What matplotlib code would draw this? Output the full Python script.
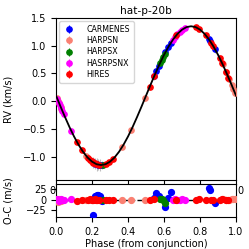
import numpy as np
import matplotlib
matplotlib.use("Agg")
import matplotlib.pyplot as plt

# -----------------------------
# Modelo (curva)
# -----------------------------
fase_modelo = [0.000, 0.025, 0.050, 0.075, 0.100, 0.125, 0.150, 0.175, 0.200, 0.225,
               0.250, 0.275, 0.300, 0.325, 0.350, 0.375, 0.400, 0.425, 0.450, 0.475,
               0.500, 0.525, 0.550, 0.575, 0.600, 0.625, 0.650, 0.675, 0.700, 0.725,
               0.750, 0.775, 0.800, 0.825, 0.850, 0.875, 0.900, 0.925, 0.950, 0.975, 1.000]
rv_modelo = [0.100, -0.096, -0.286, -0.468, -0.635, -0.784, -0.911, -1.014, -1.089, -1.135,
             -1.150, -1.135, -1.089, -1.014, -0.911, -0.784, -0.635, -0.468, -0.286, -0.096,
             0.100, 0.296, 0.486, 0.668, 0.835, 0.984, 1.111, 1.214, 1.289, 1.335,
             1.350, 1.335, 1.289, 1.214, 1.111, 0.984, 0.835, 0.668, 0.486, 0.296, 0.100]

# -----------------------------
# Datos por instrumento
# -----------------------------
instrumentos = ["CARMENES", "HARPSN", "HARPSX", "HASRPSNX", "HIRES"]
colores = ["blue", "salmon", "green", "magenta", "red"]

fase_carm = [0.204, 0.217, 0.226, 0.235, 0.244, 0.255, 0.546, 0.558, 0.570, 0.607,
             0.624, 0.638, 0.848, 0.856, 0.882]
rv_carm = [-1.098, -1.123, -1.136, -1.145, -1.149, -1.149, 0.457, 0.546, 0.632, 0.878,
           0.978, 1.053, 1.120, 1.083, 0.945]
res_carm = [-35, 8, 12, 11, 10, -3, 5, 15, 8, -18, 5, 18, 28, 24, -8]
err_carm = [0.10, 0.10, 0.12, 0.10, 0.10, 0.08, 0.08, 0.08, 0.08, 0.08,
            0.08, 0.08, 0.08, 0.10, 0.08]

fase_hn = [0.005, 0.012, 0.018, 0.025, 0.030, 0.167, 0.200, 0.368, 0.417, 0.494,
           0.925, 0.945, 0.962, 0.975, 0.985, 0.993]
rv_hn = [0.061, 0.006, -0.041, -0.096, -0.134, -0.984, -1.089, -0.822, -0.523, 0.053,
         0.668, 0.523, 0.396, 0.296, 0.218, 0.155]
res_hn = [3, -4, 2, -2, 0, 0, 0, 0, 0, 0, 1, 0, -1, 2, 3, 1]

fase_hx = [0.262, 0.578, 0.586, 0.594, 0.603]
rv_hx = [-1.146, 0.689, 0.744, 0.795, 0.854]
res_hx = [0, 2, 3, 0, -7]

fase_hnx = [0.008, 0.016, 0.022, 0.028, 0.035, 0.042, 0.085, 0.648, 0.660, 0.672,
            0.686, 0.700, 0.716]
rv_hnx = [0.037, -0.025, -0.072, -0.119, -0.173, -0.226, -0.536, 1.102, 1.155, 1.203,
          1.251, 1.289, 1.322]
res_hnx = [1, -2, 0, 2, -1, 0, 2, 0, 1, -1, 0, 1, 0]

fase_hires = [0.115, 0.143, 0.178, 0.190, 0.198, 0.207, 0.215, 0.222, 0.230, 0.240,
              0.278, 0.296, 0.316, 0.520, 0.545, 0.668, 0.780, 0.792, 0.832, 0.862,
              0.874, 0.910, 0.922, 0.945, 0.958]
rv_hires = [-0.727, -0.878, -1.025, -1.062, -1.084, -1.105, -1.120, -1.131, -1.140, -1.148,
            -1.131, -1.098, -1.044, 0.257, 0.449, 1.188, 1.328, 1.307, 1.188, 1.053,
            0.990, 0.770, 0.689, 0.523, 0.426]
res_hires = [-2, 0, 0, 1, -1, 0, 2, 0, -1, 0, 0, 0, 0, 0, 1, 0, 0, 1, 0, 0,
             0, 0, 1, 0, 0]

fases = [fase_carm, fase_hn, fase_hx, fase_hnx, fase_hires]
rvs = [rv_carm, rv_hn, rv_hx, rv_hnx, rv_hires]
residuos = [res_carm, res_hn, res_hx, res_hnx, res_hires]

# -----------------------------
# Figura
# -----------------------------
plt.rcParams["font.size"] = 7

fig = plt.figure(figsize=(2.49, 2.49), dpi=100)
ax = fig.add_axes([0.225, 0.277, 0.723, 0.651])
axr = fig.add_axes([0.225, 0.129, 0.723, 0.132])

fig.text(0.209, 0.233, "0", fontsize=7, ha="center", va="center", zorder=0)
fig.text(0.966, 0.233, "0", fontsize=7, ha="center", va="center")

# barras de error con jitter (gris)
ax.errorbar(fase_carm, rv_carm, yerr=err_carm, fmt="none", ecolor="gray",
            alpha=0.5, elinewidth=0.8, zorder=2)

for nombre, c, f, v, r in zip(instrumentos, colores, fases, rvs, residuos):
    ax.errorbar(f, v, yerr=0.015, fmt="o", color=c, ms=3.8, elinewidth=0.8,
                label=nombre, zorder=3)
    axr.plot(f, r, "o", color=c, ms=4.2, zorder=4)

ax.plot(fase_modelo, rv_modelo, color="black", lw=1.3, zorder=5)

ax.set_xlim(0, 1)
ax.set_ylim(-1.42, 1.5)
ax.set_yticks([-1.0, -0.5, 0.0, 0.5, 1.0, 1.5])
ax.set_xticks([0.0, 0.2, 0.4, 0.6, 0.8, 1.0])
ax.tick_params(labelbottom=False)
ax.set_ylabel("RV (km/s)")
ax.yaxis.set_label_coords(-0.235, 0.5)
ax.set_title("hat-p-20b", fontsize=7.6, pad=3)

leg = ax.legend(loc="upper left", fontsize=5.7, handlelength=1.6,
                borderpad=0.45, labelspacing=0.3, handletextpad=1.4,
                borderaxespad=0.4)
leg.get_frame().set_edgecolor("#cccccc")
leg.set_zorder(6)

axr.axhline(0, color="black", ls="--", lw=1.0, zorder=3)
axr.set_xlim(0, 1)
axr.set_ylim(-40, 37)
axr.set_yticks([-25, 0, 25])
axr.set_xticks([0.0, 0.2, 0.4, 0.6, 0.8, 1.0])
axr.set_ylabel("O-C (m/s)")
axr.yaxis.set_label_coords(-0.235, 0.5)
axr.set_xlabel("Phase (from conjunction)", labelpad=2)

fig.savefig("out.png", dpi=100)
